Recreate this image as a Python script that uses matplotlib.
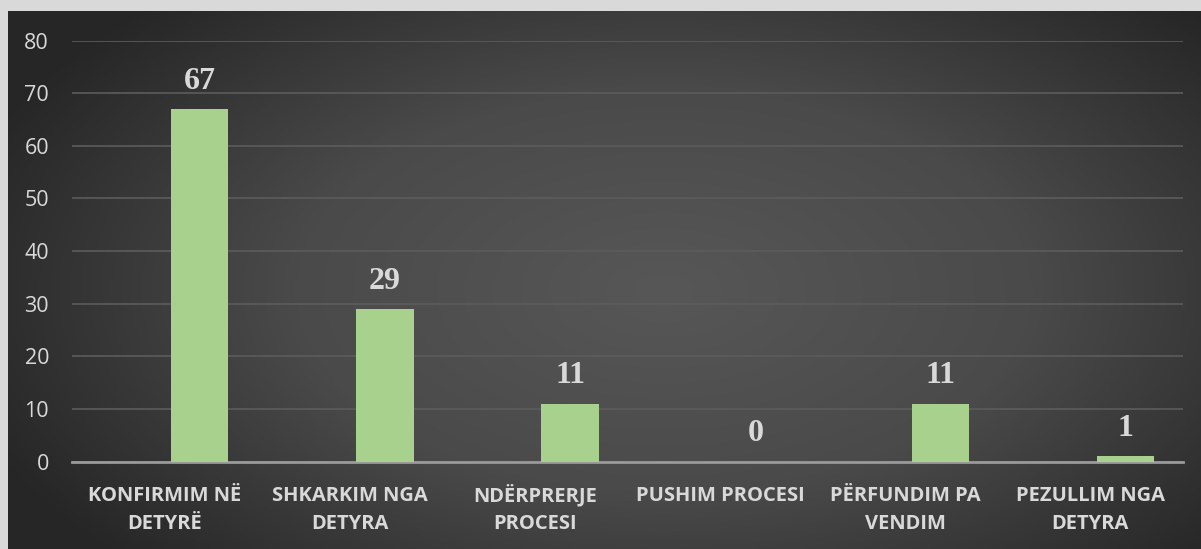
import numpy as np
import matplotlib
matplotlib.use("Agg")
import matplotlib.pyplot as plt
from matplotlib.colors import LinearSegmentedColormap
from matplotlib.transforms import blended_transform_factory

categories = ["KONFIRMIM NË\nDETYRË", "SHKARKIM NGA\nDETYRA", "NDËRPRERJE\nPROCESI",
              "PUSHIM PROCESI", "PËRFUNDIM PA\nVENDIM", "PEZULLIM NGA\nDETYRA"]
values = [67, 29, 11, 0, 11, 1]
yticks = [0, 10, 20, 30, 40, 50, 60, 70, 80]

W, H = 1201, 549
fig = plt.figure(figsize=(W / 100, H / 100), dpi=100)
fig.patch.set_facecolor("#d9d9d9")

# dark panel with radial gradient
px0, py0 = 8, 11  # panel top-left in pixels
bg = fig.add_axes([px0 / W, 0, 1 - px0 / W, 1 - py0 / H])
bg.set_axis_off()
xx, yy = np.meshgrid(np.linspace(0, 1, 400), np.linspace(0, 1, 200))
cx, cy = 0.55, 0.52
r = np.sqrt(((xx - cx) / 0.62) ** 2 + ((yy - cy) / 0.75) ** 2)
r = np.clip(r, 0, 1)
cmap = LinearSegmentedColormap.from_list("g", ["#575757", "#4a4a4a", "#262626"])
bg.imshow(r, cmap=cmap, vmin=0, vmax=1, aspect="auto", extent=[0, 1, 0, 1],
          interpolation="bilinear")
bg.set_xlim(0, 1)
bg.set_ylim(0, 1)

# main axes
left, right = 72 / W, 1183 / W
y0_px, y80_px = 461.5, 40.7
ax = fig.add_axes([left, 1 - y0_px / H, right - left, (y0_px - y80_px) / H])
ax.patch.set_alpha(0)
x = np.arange(len(categories))
ax.set_xlim(-0.5, len(categories) - 0.5)
ax.set_ylim(0, 80)
ax.set_yticks(yticks)
ax.yaxis.grid(True, color="#5c5c5c", linewidth=1.2)
ax.set_axisbelow(True)
for s in ["top", "right", "left"]:
    ax.spines[s].set_visible(False)
ax.spines["bottom"].set_color("#9a9a9a")
ax.spines["bottom"].set_linewidth(2)
ax.tick_params(axis="both", length=0)
ax.tick_params(axis="y", pad=16.5)

off, bw = 0.19, 0.31
bars = ax.bar(x + off, values, width=bw, color="#a9d18e", zorder=3)
for xi, v in zip(x, values):
    ax.annotate(str(v), (xi + off, v), xytext=(0, 9.5), textcoords="offset points",
                ha="center", va="bottom", fontsize=23, fontweight="bold",
                family="Liberation Serif", color="#d9d9d9", zorder=4)

# category labels, line by line on common baselines
ax.set_xticks(x)
ax.set_xticklabels([])
trans = blended_transform_factory(ax.transData, fig.transFigure)
baselines_px = [501, 529]
for xi, lab in zip(x, categories):
    for line, bpx in zip(lab.split("\n"), baselines_px):
        ax.text(xi, 1 - bpx / H, line, transform=trans, ha="center", va="baseline",
                fontsize=14.5, fontweight="bold", family="Open Sans",
                color="#d9d9d9", clip_on=False)

ax.set_yticklabels([str(t) for t in yticks], fontsize=15.5, family="Open Sans",
                   color="#d9d9d9")

fig.savefig("out.png", dpi=100, facecolor=fig.get_facecolor())
